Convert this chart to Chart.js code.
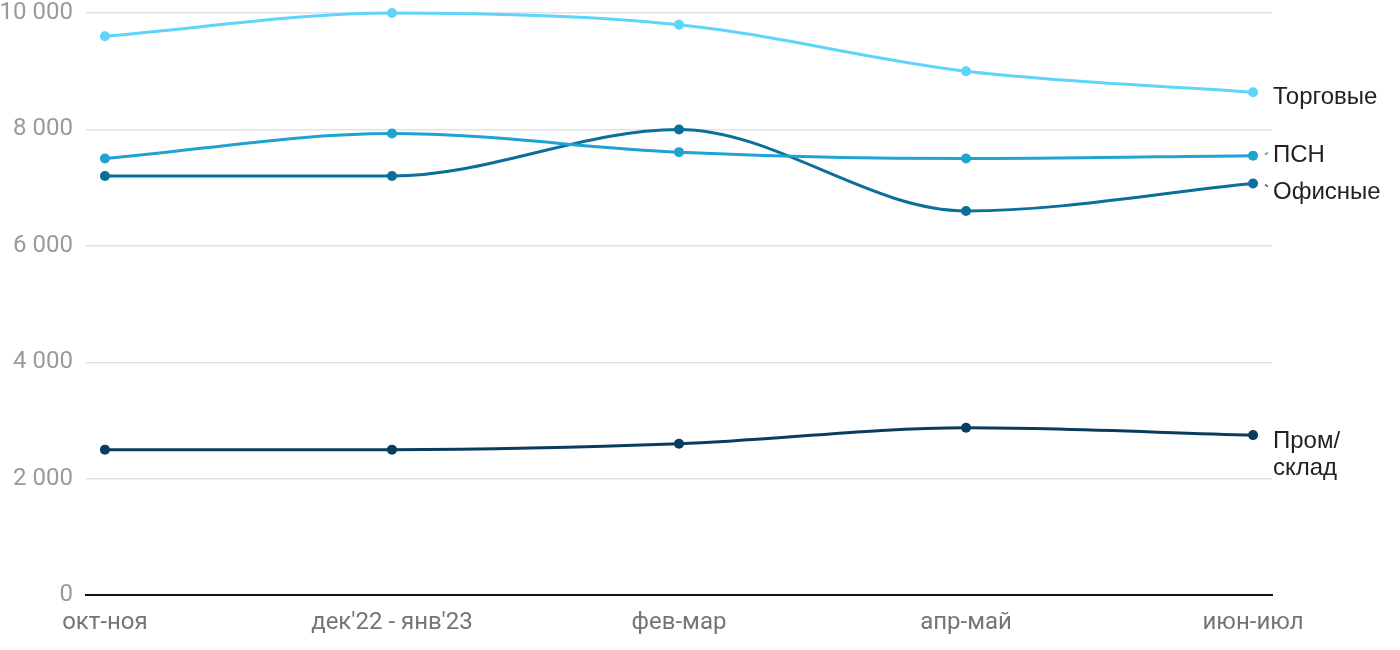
<!DOCTYPE html>
<html><head><meta charset="utf-8">
<script src="https://cdn.jsdelivr.net/npm/chart.js@4/dist/chart.umd.min.js"></script>
<style>html,body{margin:0;padding:0;background:#fff}#wrap{width:1400px;height:650px}</style>
</head><body><div id="wrap"><canvas id="c" width="1400" height="650"></canvas></div>
<script>
const categories = ["окт-ноя", "дек'22 - янв'23", "фев-мар", "апр-май", "июн-июл"];
const yTicks = [0, 2000, 4000, 6000, 8000, 10000];
const seriesNames = ["Торговые", "ПСН", "Офисные", "Пром/склад"];
const torgovye = [9600, 10000, 9800, 9000, 8640];
const psn = [7500, 7930, 7610, 7500, 7550];
const ofisnye = [7200, 7200, 8000, 6600, 7070];
const promSklad = [2500, 2500, 2600, 2875, 2750];

const colors = ["#5ed4fa", "#1ea3d2", "#0a6f99", "#0a3c5e"];
const labelLines = [["Торговые"], ["ПСН"], ["Офисные"], ["Пром/", "склад"]];
const labelOffsets = [5, 0, 9, 6];
const connectors = [false, true, true, false];

function toPts(arr){ return arr.map((v,i)=>({x:i,y:v})); }
const allSeries = [torgovye, psn, ofisnye, promSklad];

const labelPlugin = {
  id: 'endLabels',
  afterDatasetsDraw(chart){
    const ctx = chart.ctx;
    const xs = chart.scales.x, ys = chart.scales.y;
    ctx.save();
    allSeries.forEach((s, i) => {
      const last = s.length - 1;
      const px = xs.getPixelForValue(last);
      const py = ys.getPixelForValue(s[last]);
      const ly = py + labelOffsets[i];
      const lx = chart.chartArea.right + 1;
      if (connectors[i]) {
        ctx.strokeStyle = colors[i];
        ctx.lineWidth = 1.5;
        ctx.beginPath();
        const dy = (ly - py) === 0 ? -3 : 3;
        ctx.moveTo(lx - 8, py + (dy>0 ? 1 : -1));
        ctx.lineTo(lx - 5, py + dy);
        ctx.stroke();
      }
      ctx.fillStyle = '#222';
      ctx.font = '24px "Liberation Sans", Arial, sans-serif';
      ctx.textBaseline = 'middle';
      ctx.textAlign = 'left';
      const lines = labelLines[i];
      const lh = 27;
      lines.forEach((t, k) => ctx.fillText(t, lx, ly + k*lh));
    });
    ctx.restore();
  }
};

new Chart(document.getElementById('c'), {
  type: 'line',
  data: {
    datasets: allSeries.map((s, i) => ({
      label: seriesNames[i],
      data: toPts(s),
      borderColor: colors[i],
      backgroundColor: colors[i],
      borderWidth: 3,
      pointRadius: 5,
      pointHoverRadius: 5,
      pointBorderWidth: 0,
      cubicInterpolationMode: 'monotone',
      fill: false,
      clip: false
    }))
  },
  options: {
    responsive: false,
    animation: false,
    events: [],
    layout: { padding: { top: 13, right: 128, left: 0, bottom: 0 } },
    plugins: { legend: { display: false }, tooltip: { enabled: false } },
    scales: {
      x: {
        type: 'linear',
        min: -0.066, max: 4.066,
        afterBuildTicks(scale){ scale.ticks = categories.map((c,i)=>({value:i})); },
        afterFit(scale){ scale.paddingLeft = 0; scale.paddingRight = 0; },
        ticks: {
          callback: (v) => categories[v],
          color: '#757575',
          font: { family: 'Roboto', size: 24 },
          padding: 13,
          maxRotation: 0, autoSkip: false
        },
        grid: { display: false, drawTicks: false },
        border: { display: true, color: '#111', width: 2 }
      },
      y: {
        min: 0, max: 10000,
        afterBuildTicks(scale){ scale.ticks = yTicks.map(v=>({value:v})); },
        afterFit(scale){ scale.width = 86; scale.paddingTop = 0; scale.paddingBottom = 0; },
        ticks: {
          callback: (v) => v === 0 ? '0' : String(v).replace(/\B(?=(\d{3})+(?!\d))/g, ' '),
          color: '#9a9a9a',
          font: { family: 'Roboto', size: 24 },
          padding: 13
        },
        grid: { color: '#e2e2e2', lineWidth: 1.5, drawTicks: false },
        border: { display: false }
      }
    }
  },
  plugins: [labelPlugin]
});
</script></body></html>
